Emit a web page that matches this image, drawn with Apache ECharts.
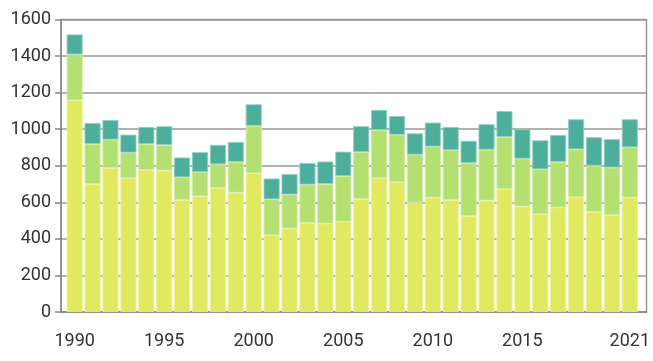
<!DOCTYPE html>
<html>
<head>
<meta charset="utf-8">
<script src="https://cdn.jsdelivr.net/npm/echarts@6/dist/echarts.min.js"></script>
<style>html,body{margin:0;padding:0;background:#fff}#c{width:653px;height:361px}</style>
</head>
<body>
<div id="c"></div>
<script>
const years = [1990,1991,1992,1993,1994,1995,1996,1997,1998,1999,2000,2001,2002,2003,2004,2005,2006,2007,2008,2009,2010,2011,2012,2013,2014,2015,2016,2017,2018,2019,2020,2021];
const seriesA = [1158,701,788,732,777,774,612,633,679,653,759,420,457,488,484,494,619,732,710,599,626,612,526,610,672,577,535,572,628,548,530,626];
const seriesB = [251,218,155,140,142,140,125,132,129,168,259,197,186,209,217,250,256,264,260,262,279,273,289,278,286,262,246,249,262,253,260,275];
const seriesC = [109,115,107,98,93,102,108,109,106,109,118,113,111,118,122,133,141,109,102,116,131,127,121,139,141,160,158,147,164,155,155,153];
const xTickLabels = ['1990','1995','2000','2005','2010','2015','2021'];

const chart = echarts.init(document.getElementById('c'));
function mk(name, vals, color, border) {
  return {
    name, type: 'bar', stack: 'total', barWidth: 16,
    xAxisIndex: 0, yAxisIndex: 0,
    data: vals,
    itemStyle: { color, borderColor: border, borderWidth: 0.8 },
    emphasis: { disabled: true }, animation: false
  };
}
const lab = { color: '#333', fontFamily: 'Roboto', fontSize: 18 };
chart.setOption({
  animation: false,
  grid: [
    { left: 65.7, right: 11.8, top: 19.5, bottom: 49 },
    { left: 61, right: 6.5, top: 19.5, bottom: 49, show: true, borderColor: '#999', borderWidth: 1.5, backgroundColor: 'transparent' }
  ],
  xAxis: [
    {
      gridIndex: 0, type: 'category', data: years.map(String), boundaryGap: true,
      axisLine: { show: false }, axisTick: { show: false },
      axisLabel: Object.assign({}, lab, { margin: 20, interval: 0, formatter: v => xTickLabels.includes(v) ? v : '' })
    },
    {
      gridIndex: 1, type: 'value', min: 0, max: 1,
      axisLine: { show: true, lineStyle: { color: '#888', width: 1.5 } },
      axisTick: { show: false }, splitLine: { show: false }, axisLabel: { show: false }
    }
  ],
  yAxis: [
    { gridIndex: 0, type: 'value', min: 0, max: 1600, interval: 200, show: false, splitLine: { show: false } },
    {
      gridIndex: 1, type: 'value', min: 0, max: 1600, interval: 200,
      axisLine: { show: true, lineStyle: { color: '#888', width: 1.5 } },
      axisTick: { show: true, length: 6, lineStyle: { color: '#888', width: 1.5 } },
      splitLine: { show: true, lineStyle: { color: '#999', width: 1.5 } },
      axisLabel: Object.assign({}, lab, { margin: 10, formatter: v => String(v) })
    }
  ],
  series: [
    mk('A', seriesA, '#e0e960', '#eef3a0'),
    mk('B', seriesB, '#b3e070', '#d0eea0'),
    mk('C', seriesC, '#4daf9b', '#8fd0c0')
  ]
});
</script>
</body>
</html>
